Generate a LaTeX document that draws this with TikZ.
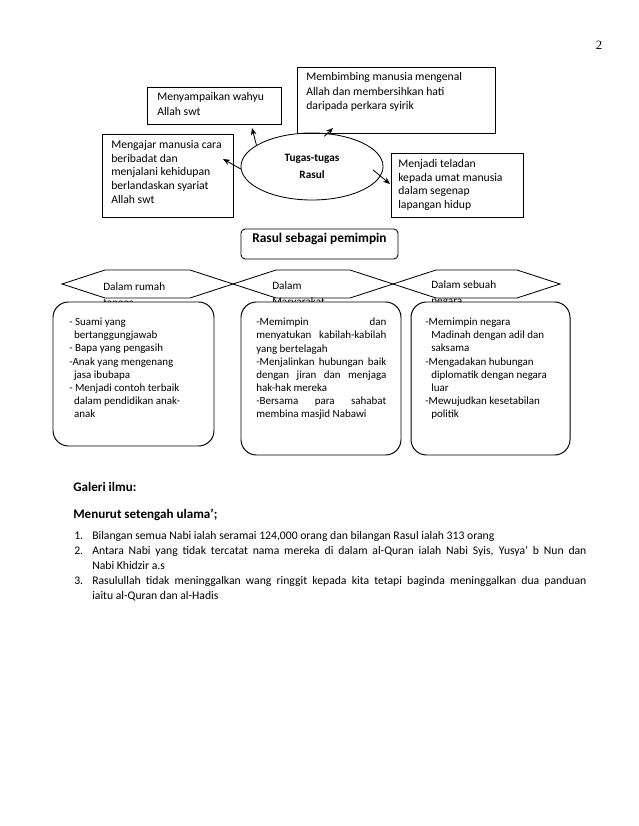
\documentclass[tikz,border=0pt]{standalone}
\usepackage{fontspec}
\setmainfont{Carlito}
\newfontfamily\angkafont{Liberation Serif}
\usetikzlibrary{arrows.meta, positioning, shapes.geometric, fit}

% baris rata kiri-kanan
\newcommand{\rata}[2][3.25cm]{\hbox to #1{\spaceskip=0.25em plus 1fill\relax #2}}

\tikzset{
  kotak/.style={draw, rectangle, inner sep=0pt, line width=0.6pt},
  tugasan/.style={anchor=north west, inner sep=0pt, align=left, font=\fontsize{8.3}{10.5}\selectfont},
  hexteks/.style={anchor=north west, inner sep=0pt, align=left, font=\fontsize{8}{11}\selectfont},
  bulat/.style={draw, rounded corners=11pt, fill=white, inner sep=0pt, line width=0.7pt},
  isi/.style={anchor=north west, inner sep=0pt, align=left, font=\fontsize{7.8}{9.3}\selectfont},
  tajuk/.style={anchor=north west, inner sep=0pt, font=\bfseries\fontsize{9.3}{11}\selectfont},
  anak panah/.style={-{Stealth[length=5pt,width=4pt]}, line width=0.6pt},
}

\begin{document}
\begin{tikzpicture}[x=0.025cm, y=-0.025cm]
  \useasboundingbox (0,0) rectangle (638,826);
  % nombor halaman
  \node[font=\angkafont\fontsize{9}{10}\selectfont, inner sep=0pt] (halaman) at (599,45) {2};

  % tugas-tugas Rasul
  \node[draw, ellipse, minimum width=3.55cm, minimum height=1.675cm, inner sep=0pt, align=center,
        line width=0.6pt, font=\bfseries\fontsize{8}{12}\selectfont] (tugas) at (312,166.5) {Tugas-tugas\\Rasul};
  \node[kotak, fit={(147,87) (281,124)}] (wahyu) {};
  \node[tugasan] (wahyuT) at (157,92) {Menyampaikan wahyu\\Allah swt};
  \node[kotak, fit={(297,67) (495,133)}] (bimbing) {};
  \node[tugasan] (bimbingT) at (306,72) {Membimbing manusia mengenal\\Allah dan membersihkan hati\\daripada perkara syirik};
  \node[kotak, fit={(102,134) (233,217)}] (ajar) {};
  \node[tugasan, font=\fontsize{8.3}{9.8}\selectfont] (ajarT) at (111,140)
    {Mengajar manusia cara\\beribadat dan\\menjalani kehidupan\\berlandaskan syariat\\Allah swt};
  \node[kotak, fit={(391,153) (523,217)}] (teladan) {};
  \node[tugasan, font=\fontsize{8.3}{9.8}\selectfont] (teladanT) at (398,159)
    {Menjadi teladan\\kepada umat manusia\\dalam segenap\\lapangan hidup};

  % hujung anak panah
  \coordinate (hujungA) at (252,128);
  \coordinate (hujungB) at (333,128);
  \coordinate (hujungC) at (223,159);
  \coordinate (hujungD) at (390,184);
  \draw[anak panah] (tugas.159) -- (hujungA);
  \draw[anak panah, shorten <=-3pt] (tugas.65) -- (hujungB);
  \draw[anak panah] (tugas.182) -- (hujungC);
  \draw[anak panah, shorten <=-7pt] (tugas.-8) -- (hujungD);

  % Rasul sebagai pemimpin
  \node[draw, rounded corners=3pt, inner sep=0pt, line width=0.6pt, font=\bfseries\fontsize{9.5}{11}\selectfont,
        fit={(241,229) (398,259)}] (pemimpin) {Rasul sebagai pemimpin};

  \foreach \kiri/\kanan in {62/233, 233/393, 393/560}
    \draw[line width=0.6pt] (\kiri,284) -- (\kiri+43,270) -- (\kanan-43,270) -- (\kanan,284)
      -- (\kanan-43,298) -- (\kiri+43,298) -- cycle;
  \node[hexteks] (rumahT) at (103,282.5) {Dalam rumah\\tangga};
  \node[hexteks] (masyT) at (272,281.5) {Dalam\\Masyarakat};
  \node[hexteks] (negaraT) at (431,280.5) {Dalam sebuah\\negara};

  \node[bulat, fit={(53,302) (214,446)}] (rumah) {};
  \node[bulat, fit={(241,302) (401,455)}] (masy) {};
  \node[bulat, fit={(411,302) (570,455)}] (negara) {};

  \node[isi] (rumahI) at (69,318) {- Suami yang\\
    \hspace*{0.12cm}bertanggungjawab\\
    - Bapa yang pengasih\\
    -Anak yang mengenang\\
    \hspace*{0.12cm}jasa ibubapa\\
    - Menjadi contoh terbaik\\
    \hspace*{0.12cm}dalam pendidikan anak-\\
    \hspace*{0.12cm}anak};
  \node[isi] (masyI) at (256,318) {\rata{-Memimpin dan}\\
    \rata{menyatukan kabilah-kabilah}\\
    yang bertelagah\\
    \rata{-Menjalinkan hubungan baik}\\
    \rata{dengan jiran dan menjaga}\\
    hak-hak mereka\\
    \rata{-Bersama para sahabat}\\
    membina masjid Nabawi};
  \node[isi] (negaraI) at (425,318) {-Memimpin negara\\
    \hspace*{0.15cm}Madinah dengan adil dan\\
    \hspace*{0.15cm}saksama\\
    -Mengadakan hubungan\\
    \hspace*{0.15cm}diplomatik dengan negara\\
    \hspace*{0.15cm}luar\\
    -Mewujudkan kesetabilan\\
    \hspace*{0.15cm}politik};

  % galeri ilmu
  \node[tajuk] (galeri) at (73,482) {Galeri ilmu:};
  \node[tajuk] (menurut) at (73,509) {Menurut setengah ulama';};
  \node[anchor=north west, inner sep=0pt, font=\fontsize{8.3}{10.7}\selectfont] (senarai) at (74,528.5) {%
    \begin{tabular}{@{}p{0.45cm}@{}l@{}}
    1. & Bilangan semua Nabi ialah seramai 124,000 orang dan bilangan Rasul ialah 313 orang\\
    2. & \rata[12.35cm]{Antara Nabi yang tidak tercatat nama mereka di dalam al-Quran ialah Nabi Syis, Yusya' b Nun dan}\\
       & Nabi Khidzir a.s\\
    3. & \rata[12.35cm]{Rasulullah tidak meninggalkan wang ringgit kepada kita tetapi baginda meninggalkan dua panduan}\\
       & iaitu al-Quran dan al-Hadis
    \end{tabular}};
\end{tikzpicture}
\end{document}
